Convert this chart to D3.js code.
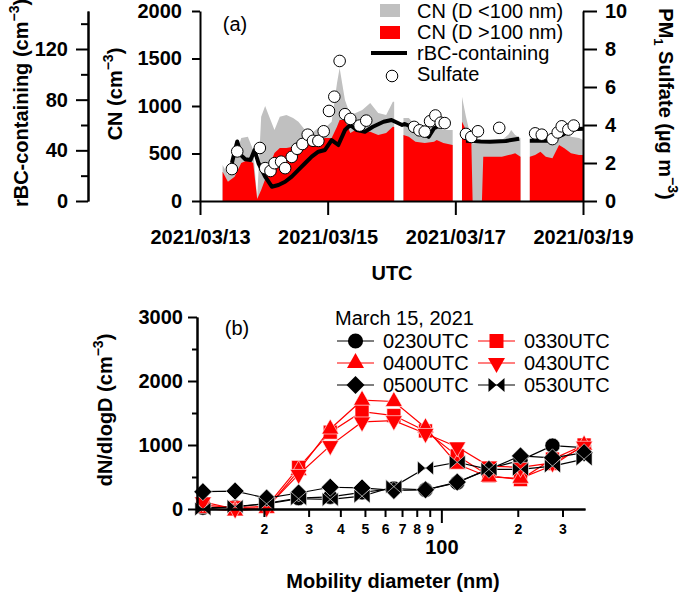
<!DOCTYPE html>
<html>
<head>
<meta charset="utf-8">
<script src="https://cdn.jsdelivr.net/npm/d3@7"></script>
<style>
body { margin: 0; background: #fff; }
svg text { font-family: "Liberation Sans", Arial, sans-serif; fill: #000; }
.axis path, .axis line { stroke: #000; stroke-width: 2px; }
.axis text { font-size: 20px; font-weight: bold; }
.axis.small text { font-size: 14px; }
</style>
</head>
<body>
<div id="chart"></div>
<script>
// --------------------------------------------------
// panel (a) data: CN time series, rBC-containing, sulfate

var cnTimes = [
    "2021-03-13 08:30", "2021-03-13 10:30", "2021-03-13 13:00", "2021-03-13 15:30",
    "2021-03-13 18:00", "2021-03-13 20:00", "2021-03-13 21:30", "2021-03-13 23:00",
    "2021-03-14 00:30", "2021-03-14 01:30", "2021-03-14 04:00", "2021-03-14 06:00",
    "2021-03-14 08:30", "2021-03-14 11:00", "2021-03-14 13:00", "2021-03-14 15:30",
    "2021-03-14 18:00", "2021-03-14 20:30", "2021-03-14 23:00", "2021-03-15 01:30",
    "2021-03-15 03:30", "2021-03-15 04:30", "2021-03-15 06:30", "2021-03-15 08:30",
    "2021-03-15 10:30", "2021-03-15 13:00", "2021-03-15 16:00", "2021-03-15 19:00",
    "2021-03-15 22:00", "2021-03-16 00:30", "2021-03-16 01:00", "2021-03-16 02:30",
    "2021-03-16 04:30", "2021-03-16 06:30", "2021-03-16 09:00", "2021-03-16 12:30",
    "2021-03-16 16:00", "2021-03-16 17:00", "2021-03-16 19:30", "2021-03-16 23:00",
    "2021-03-17 00:30", "2021-03-17 02:30", "2021-03-17 04:00", "2021-03-17 06:00",
    "2021-03-17 06:30", "2021-03-17 10:00", "2021-03-17 10:30", "2021-03-17 14:00",
    "2021-03-17 17:30", "2021-03-17 20:00", "2021-03-17 21:00", "2021-03-17 22:30",
    "2021-03-18 00:30", "2021-03-18 02:00", "2021-03-18 04:00", "2021-03-18 06:00",
    "2021-03-18 08:00", "2021-03-18 10:00", "2021-03-18 12:30", "2021-03-18 15:00",
    "2021-03-18 17:00", "2021-03-18 19:30", "2021-03-18 22:30", "2021-03-19 00:00"
];
// CN, D > 100 nm (red)
var cnLarge = [
    308, 203, 256, 400, 431, 400, 20, 115,
    230, 326, 505, 558, 558, 572, 589, 610,
    624, 642, 663, 663, 782, 852, 852, 715,
    747, 715, 730, 695, 715, 782, 780, null,
    695, 677, 624, 610, 624, 642, 610, 589,
    null, 835, 747, 640, 0, 0, 466, 466,
    466, 484, 490, 502, 466, null, 466, 484,
    519, 466, 449, 589, 555, 502, 484, 484
];
// CN, D < 100 nm (grey, on top of the red)
var cnSmall = [
    72, 70, 175, 263, 246, 137, 10, 772,
    770, 600, 242, 329, 347, 302, 246, 137,
    91, 126, 105, 172, 458, 548, 211, 190,
    179, 243, 301, 231, 190, 263, 265, null,
    179, 197, 176, 190, 158, 158, 137, 158,
    null, 263, 140, 10, 600, 610, 144, 158,
    176, 216, 257, 193, 197, null, 176, 179,
    158, 197, 193, 123, 157, 175, 179, 158
];

var rbcTimes = [
    "2021-03-13 12:00", "2021-03-13 14:00", "2021-03-13 15:30", "2021-03-13 17:00",
    "2021-03-13 19:00", "2021-03-13 20:30", "2021-03-13 22:00", "2021-03-14 00:30",
    "2021-03-14 03:00", "2021-03-14 05:30", "2021-03-14 08:00", "2021-03-14 10:30",
    "2021-03-14 13:00", "2021-03-14 15:30", "2021-03-14 18:00", "2021-03-14 20:30",
    "2021-03-14 23:00", "2021-03-15 01:30", "2021-03-15 04:00", "2021-03-15 06:30",
    "2021-03-15 08:30", "2021-03-15 11:00", "2021-03-15 14:00", "2021-03-15 17:00",
    "2021-03-15 21:00", "2021-03-16 00:00", "2021-03-16 04:00", "2021-03-16 05:00",
    "2021-03-16 09:00", "2021-03-16 12:00", "2021-03-16 14:00", "2021-03-16 16:00",
    "2021-03-16 18:30", "2021-03-17 01:00", "2021-03-17 04:00", "2021-03-17 09:30",
    "2021-03-17 13:00", "2021-03-17 19:00", "2021-03-18 00:00", "2021-03-18 02:00",
    "2021-03-18 04:00", "2021-03-18 10:30", "2021-03-18 16:00", "2021-03-18 20:00",
    "2021-03-19 00:00"
];
var rbcValues = [
    30, 47, 36, 33, 32.4, 40.3, 29.8, 19.2,
    11.3, 12.6, 15.2, 19.2, 24.5, 29.8, 35, 38.9,
    40.3, 48.1, 44.2, 56, 60, 56, 54.7, 58.6,
    62.6, 63.9, 60, 60.8, 57.4, 53.4, 50.7, 57.4,
    60, null, 47.6, 47, 46.8, 47.4, 49.2, null,
    47.6, 47.6, 52, 56.6, 57
];

var so4Times = [
    "2021-03-13 12:00", "2021-03-13 14:00", "2021-03-13 22:30", "2021-03-14 00:30",
    "2021-03-14 02:30", "2021-03-14 04:00", "2021-03-14 06:30", "2021-03-14 08:00",
    "2021-03-14 10:30", "2021-03-14 12:30", "2021-03-14 14:30", "2021-03-14 16:30",
    "2021-03-14 18:30", "2021-03-14 20:30", "2021-03-14 22:30", "2021-03-15 00:30",
    "2021-03-15 02:30", "2021-03-15 04:30", "2021-03-15 06:30", "2021-03-15 08:30",
    "2021-03-15 12:00", "2021-03-15 14:30", "2021-03-16 08:30", "2021-03-16 10:30",
    "2021-03-16 12:30", "2021-03-16 14:30", "2021-03-16 16:30", "2021-03-16 18:30",
    "2021-03-16 20:00", "2021-03-17 04:00", "2021-03-17 06:00", "2021-03-17 08:30",
    "2021-03-17 16:30", "2021-03-18 06:00", "2021-03-18 08:30", "2021-03-18 12:30",
    "2021-03-18 14:30", "2021-03-18 16:00", "2021-03-18 18:30", "2021-03-18 20:30"
];
var so4Values = [
    1.68, 2.61, 2.79, 1.73, 1.58, 1.99, 2.07, 1.73,
    2.32, 2.75, 3.0, 3.49, 3.17, 3.16, 3.67, 4.74,
    5.49, 7.37, 4.57, 4.32, 3.97, 4.23, 3.9, 3.72,
    3.65, 4.2, 4.5, 4.12, 4.1, 3.53, 3.37, 3.67,
    3.85, 3.56, 3.49, 3.26, 3.61, 3.93, 3.76, 3.97
];

// --------------------------------------------------
// panel (b) data: size distributions on March 15, 2021

var diameters = [11.5, 15.4, 20.5, 27.4, 36.5, 48.7, 65.0, 86.6, 115.5, 154, 205, 274, 365];
var dist0230 = [20, 30, 90, 170, 190, 260, 320, 300, 410, 630, 760, 990, 960];
var dist0330 = [60, 20, 40, 650, 1200, 1520, 1460, 1220, 830, 520, 460, 780, 1000];
var dist0400 = [10, -30, 10, 600, 1250, 1700, 1680, 1270, 700, 500, 480, 680, 1000];
var dist0430 = [110, 0, 20, 540, 990, 1360, 1380, 1180, 970, 670, 650, 720, 980];
var dist0500 = [270, 280, 170, 250, 340, 330, 290, 300, 420, 620, 830, 800, 880];
var dist0530 = [0, 40, 80, 160, 150, 200, 350, 640, 730, 620, 620, 670, 780];

var seriesNames = ["0230UTC", "0330UTC", "0400UTC", "0430UTC", "0500UTC", "0530UTC"];
var seriesValues = [dist0230, dist0330, dist0400, dist0430, dist0500, dist0530];
var seriesColors = ["#000", "#ff0000", "#ff0000", "#ff0000", "#000", "#000"];
var seriesShapes = ["circle", "square", "triUp", "triDown", "diamond", "bowtie"];

var parseTime = d3.timeParse("%Y-%m-%d %H:%M");
var plain = d3.format("d");

var svg = d3.select("#chart")
    .append("svg")
    .attr("width", 685)
    .attr("height", 596);

// --------------------------------------------------
// panel (a)

var aLeft = 200, aRight = 583, aTop = 11, aBottom = 201;

var x = d3.scaleTime()
    .domain([parseTime("2021-03-13 00:00"), parseTime("2021-03-19 00:00")])
    .range([aLeft, aRight]);
var yCN = d3.scaleLinear().domain([0, 2000]).range([aBottom, aTop]);
var yRbc = d3.scaleLinear().domain([0, 150]).range([aBottom, aTop]);
var ySo4 = d3.scaleLinear().domain([0, 10]).range([aBottom, aTop]);

var cnData = cnTimes.map(function(t, i) {
    return { t: parseTime(t), large: cnLarge[i], small: cnSmall[i] };
});

var areaTotal = d3.area()
    .defined(function(d) { return d.large != null; })
    .x(function(d) { return x(d.t); })
    .y0(yCN(0))
    .y1(function(d) { return yCN(d.large + d.small); });

var areaLarge = d3.area()
    .defined(function(d) { return d.large != null; })
    .x(function(d) { return x(d.t); })
    .y0(yCN(0))
    .y1(function(d) { return yCN(d.large); });

svg.append("path").datum(cnData).attr("d", areaTotal).attr("fill", "#c0c0c0");
svg.append("path").datum(cnData).attr("d", areaLarge).attr("fill", "#ff0000");

var rbcData = rbcTimes.map(function(t, i) {
    return { t: parseTime(t), v: rbcValues[i] };
});
var rbcLine = d3.line()
    .defined(function(d) { return d.v != null; })
    .x(function(d) { return x(d.t); })
    .y(function(d) { return yRbc(d.v); });

svg.append("path")
    .datum(rbcData)
    .attr("d", rbcLine)
    .attr("fill", "none")
    .attr("stroke", "#000")
    .attr("stroke-width", 4)
    .attr("stroke-linejoin", "round");

svg.selectAll("circle.so4")
    .data(so4Times)
    .enter()
    .append("circle")
    .attr("class", "so4")
    .attr("cx", function(d) { return x(parseTime(d)); })
    .attr("cy", function(d, i) { return ySo4(so4Values[i]); })
    .attr("r", 5.8)
    .attr("fill", "#fff")
    .attr("stroke", "#000")
    .attr("stroke-width", 1);

// axes of panel (a)
svg.append("g")
    .attr("class", "axis")
    .attr("transform", "translate(" + aLeft + ",0)")
    .call(d3.axisLeft(yCN).tickValues([0, 500, 1000, 1500, 2000])
        .tickSize(8).tickSizeOuter(0).tickPadding(10).tickFormat(plain));

svg.append("g")
    .attr("class", "axis")
    .attr("transform", "translate(88,0)")
    .call(d3.axisLeft(yRbc).tickValues([0, 40, 80, 120])
        .tickSize(12).tickSizeOuter(0).tickPadding(8).tickFormat(plain));
svg.append("g")
    .attr("class", "axis")
    .attr("transform", "translate(88,0)")
    .call(d3.axisLeft(yRbc).tickValues([20, 60, 100, 140])
        .tickSize(7).tickSizeOuter(0).tickFormat(""));

svg.append("g")
    .attr("class", "axis")
    .attr("transform", "translate(" + aRight + ",0)")
    .call(d3.axisRight(ySo4).tickValues([0, 2, 4, 6, 8, 10])
        .tickSize(14).tickSizeOuter(0).tickPadding(8).tickFormat(plain));

svg.append("g")
    .attr("class", "axis")
    .attr("transform", "translate(0," + aBottom + ")")
    .call(d3.axisBottom(x).ticks(d3.timeDay.every(2))
        .tickFormat(d3.timeFormat("%Y/%m/%d"))
        .tickSize(14).tickSizeOuter(0).tickPadding(15));

// axis labels of panel (a)
var lblRbc = svg.append("text")
    .attr("transform", "translate(28,103) rotate(-90)")
    .attr("text-anchor", "middle")
    .attr("font-size", "20px")
    .attr("font-weight", "bold");
lblRbc.append("tspan").text("rBC-containing (cm");
lblRbc.append("tspan").attr("dy", -9).attr("font-size", "14px").text("\u22123");
lblRbc.append("tspan").attr("dy", 9).text(")");

var lblCN = svg.append("text")
    .attr("transform", "translate(122,94) rotate(-90)")
    .attr("text-anchor", "middle")
    .attr("font-size", "20px")
    .attr("font-weight", "bold");
lblCN.append("tspan").text("CN (cm");
lblCN.append("tspan").attr("dy", -9).attr("font-size", "14px").text("\u22123");
lblCN.append("tspan").attr("dy", 9).text(")");

var lblSo4 = svg.append("text")
    .attr("transform", "translate(659,104) rotate(90)")
    .attr("text-anchor", "middle")
    .attr("font-size", "20px")
    .attr("font-weight", "bold");
lblSo4.append("tspan").text("PM");
lblSo4.append("tspan").attr("dy", 5).attr("font-size", "13px").text("1");
lblSo4.append("tspan").attr("dy", -5).text(" Sulfate (\u00b5g m");
lblSo4.append("tspan").attr("dy", -9).attr("font-size", "14px").text("\u22123");
lblSo4.append("tspan").attr("dy", 9).text(")");

svg.append("text")
    .attr("x", 392)
    .attr("y", 280)
    .attr("text-anchor", "middle")
    .attr("font-size", "20px")
    .attr("font-weight", "bold")
    .text("UTC");

svg.append("text")
    .attr("x", 235)
    .attr("y", 31)
    .attr("text-anchor", "middle")
    .attr("font-size", "20px")
    .text("(a)");

// legend of panel (a)
var legA = svg.append("g");
legA.append("rect").attr("x", 380).attr("y", 4).attr("width", 20).attr("height", 13).attr("fill", "#c0c0c0");
legA.append("rect").attr("x", 380).attr("y", 26).attr("width", 20).attr("height", 13).attr("fill", "#ff0000");
legA.append("line").attr("x1", 371).attr("x2", 407).attr("y1", 53).attr("y2", 53)
    .attr("stroke", "#000").attr("stroke-width", 4);
legA.append("circle").attr("cx", 392).attr("cy", 76).attr("r", 5.8)
    .attr("fill", "#fff").attr("stroke", "#000");
var legAText = ["CN (D <100 nm)", "CN (D >100 nm)", "rBC-containing", "Sulfate"];
legA.selectAll("text")
    .data(legAText)
    .enter()
    .append("text")
    .attr("x", 417)
    .attr("y", function(d, i) { return 18 + i * 21; })
    .attr("font-size", "20px")
    .text(function(d) { return d; });

// --------------------------------------------------
// panel (b)

var bLeft = 197, bRight = 585, bTop = 317, bBottom = 509;

var xD = d3.scaleLog().domain([10.9, 368]).range([bLeft, bRight]);
var yN = d3.scaleLinear().domain([0, 3000]).range([bBottom, bTop]);

function markerPath(shape) {
    if (shape == "circle") return d3.symbol(d3.symbolCircle, 180)();
    if (shape == "square") return "M-7,-7L7,-7L7,7L-7,7Z";
    if (shape == "triUp") return "M0,-10L8.5,5L-8.5,5Z";
    if (shape == "triDown") return "M0,10L8.5,-5L-8.5,-5Z";
    if (shape == "diamond") return "M0,-9L9,0L0,9L-9,0Z";
    return "M-8,-7L0,0L-8,7Z M8,-7L0,0L8,7Z";
}

var lineB = d3.line()
    .x(function(d, i) { return xD(diameters[i]); })
    .y(function(d) { return yN(d); });

seriesValues.forEach(function(vals, k) {
    var g = svg.append("g");
    g.append("path")
        .datum(vals)
        .attr("d", lineB)
        .attr("fill", "none")
        .attr("stroke", seriesColors[k])
        .attr("stroke-width", 1.2);
    g.selectAll("path.mk")
        .data(vals)
        .enter()
        .append("path")
        .attr("class", "mk")
        .attr("d", markerPath(seriesShapes[k]))
        .attr("transform", function(d, i) {
            return "translate(" + xD(diameters[i]) + "," + yN(d) + ")";
        })
        .attr("fill", seriesColors[k])
        .attr("stroke", "#fff")
        .attr("stroke-width", 0.6);
});

// axes of panel (b)
svg.append("g")
    .attr("class", "axis")
    .attr("transform", "translate(" + bLeft + ",0)")
    .call(d3.axisLeft(yN).tickValues([0, 1000, 2000, 3000])
        .tickSize(9).tickSizeOuter(0).tickPadding(5).tickFormat(plain));
svg.append("g")
    .attr("class", "axis")
    .attr("transform", "translate(" + bLeft + ",0)")
    .call(d3.axisLeft(yN).tickValues([500, 1500, 2500])
        .tickSize(5).tickSizeOuter(0).tickFormat(""));

svg.append("g")
    .attr("class", "axis small")
    .attr("transform", "translate(0," + bBottom + ")")
    .call(d3.axisBottom(xD).tickValues([20, 30, 40, 50, 60, 70, 80, 90, 200, 300])
        .tickSize(8).tickSizeOuter(0).tickPadding(7)
        .tickFormat(function(d) { return String(d).charAt(0); }));
svg.append("g")
    .attr("class", "axis")
    .attr("transform", "translate(0," + bBottom + ")")
    .call(d3.axisBottom(xD).tickValues([100])
        .tickSize(14).tickSizeOuter(0).tickPadding(17)
        .tickFormat(plain));

var lblN = svg.append("text")
    .attr("transform", "translate(112,410) rotate(-90)")
    .attr("text-anchor", "middle")
    .attr("font-size", "20px")
    .attr("font-weight", "bold");
lblN.append("tspan").text("dN/dlogD (cm");
lblN.append("tspan").attr("dy", -9).attr("font-size", "14px").text("\u22123");
lblN.append("tspan").attr("dy", 9).text(")");

svg.append("text")
    .attr("x", 393)
    .attr("y", 588)
    .attr("text-anchor", "middle")
    .attr("font-size", "20px")
    .attr("font-weight", "bold")
    .text("Mobility diameter (nm)");

svg.append("text")
    .attr("x", 237)
    .attr("y", 335)
    .attr("text-anchor", "middle")
    .attr("font-size", "20px")
    .text("(b)");

// legend of panel (b)
svg.append("text")
    .attr("x", 335)
    .attr("y", 325)
    .attr("font-size", "20px")
    .text("March 15, 2021");

seriesNames.forEach(function(name, k) {
    var col = k % 2, row = Math.floor(k / 2);
    var lx = col == 0 ? 337 : 478;
    var ly = 341 + row * 22;
    var g = svg.append("g");
    g.append("line")
        .attr("x1", lx).attr("x2", lx + 37)
        .attr("y1", ly).attr("y2", ly)
        .attr("stroke", seriesColors[k])
        .attr("stroke-width", 1.2);
    g.append("path")
        .attr("d", markerPath(seriesShapes[k]))
        .attr("transform", "translate(" + (lx + 18.5) + "," + ly + ")")
        .attr("fill", seriesColors[k]);
    g.append("text")
        .attr("x", lx + 46)
        .attr("y", ly + 7)
        .attr("font-size", "20px")
        .text(name);
});
</script>
</body>
</html>
